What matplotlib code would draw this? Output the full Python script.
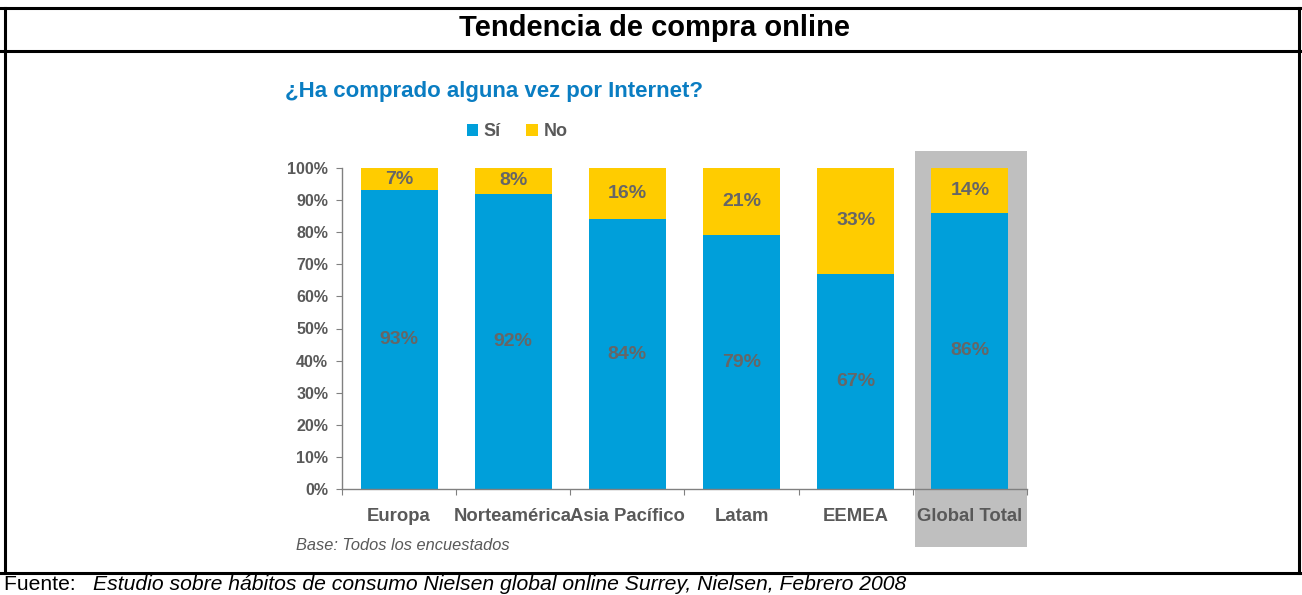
import matplotlib
matplotlib.use("Agg")
import matplotlib.pyplot as plt
from matplotlib.patches import Rectangle
from matplotlib.lines import Line2D

plt.rcParams['font.family'] = ['Liberation Sans', 'DejaVu Sans']

categories = ["Europa", "Norteamérica", "Asia Pacífico", "Latam", "EEMEA", "Global Total"]
si_values = [93, 92, 84, 79, 67, 86]
no_values = [7, 8, 16, 21, 33, 14]
ytick_values = [0, 10, 20, 30, 40, 50, 60, 70, 80, 90, 100]

BLUE = "#009FDA"
YELLOW = "#FFCC00"
TITLE_BLUE = "#0A7DC2"
GRAY_TXT = "#595959"
LABEL_GRAY = "#666666"
HILITE = "#BFBFBF"

W, H = 1302, 595
fig = plt.figure(figsize=(W / 100, H / 100), dpi=100)

def fx(px):
    return px / W

def fy(py):
    return 1 - py / H

# Frame lines
lw = 2.2
for y in (7.5, 51, 573):
    fig.add_artist(Line2D([fx(0), fx(W)], [fy(y), fy(y)], color="black", lw=lw))
fig.add_artist(Line2D([fx(5), fx(5)], [fy(7.5), fy(573)], color="black", lw=lw))
fig.add_artist(Line2D([fx(1299), fx(1299)], [fy(7.5), fy(573)], color="black", lw=lw))

fig.text(fx(655), fy(28), "Tendencia de compra online", ha="center", va="center",
         fontsize=21, fontweight="bold", color="black")

fig.text(fx(285), fy(92), "¿Ha comprado alguna vez por Internet?", ha="left", va="center",
         fontsize=16, fontweight="bold", color=TITLE_BLUE)

# Axes
ax_left, ax_right = 342, 1027
ax_bottom, ax_top = 489, 168
ax = fig.add_axes([fx(ax_left), fy(ax_bottom), (ax_right - ax_left) / W, (ax_bottom - ax_top) / H])
ax.patch.set_alpha(0)

x = list(range(len(categories)))
bw = 0.675
ax.bar(x, si_values, width=bw, color=BLUE, label="Sí", zorder=2)
ax.bar(x, no_values, width=bw, bottom=si_values, color=YELLOW, label="No", zorder=2)

# Highlight box behind Global Total
ax.add_patch(Rectangle((4.52, -18.1), 0.98, 123.4, facecolor=HILITE, edgecolor="none",
                       clip_on=False, zorder=0))

for i in x:
    ax.text(i, si_values[i] / 2, f"{si_values[i]}%", ha="center", va="center",
            fontsize=14, fontweight="bold", color=LABEL_GRAY, zorder=3)
    ax.text(i, si_values[i] + no_values[i] / 2, f"{no_values[i]}%", ha="center", va="center",
            fontsize=14, fontweight="bold", color=LABEL_GRAY, zorder=3)

ax.set_xlim(-0.5, len(categories) - 0.5)
ax.set_ylim(0, 100)
ax.set_yticks(ytick_values)
ax.set_yticklabels([f"{v}%" for v in ytick_values], fontsize=11.5, fontweight="bold", color=GRAY_TXT)
ax.tick_params(axis="y", direction="out", length=4, color="#808080", pad=6)

ax.set_xticks([i - 0.5 for i in range(len(categories) + 1)])
ax.set_xticklabels([])
ax.tick_params(axis="x", which="major", direction="out", length=4, color="#808080")
ax.set_xticks(x, minor=True)
ax.set_xticklabels(categories, minor=True, fontsize=13.3, fontweight="bold", color=GRAY_TXT)
ax.tick_params(axis="x", which="minor", length=0, pad=14)

for s in ("top", "right"):
    ax.spines[s].set_visible(False)
for s in ("left", "bottom"):
    ax.spines[s].set_color("#808080")
    ax.spines[s].set_linewidth(1)

# Legend
leg = fig.legend(handles=[ax.containers[0], ax.containers[1]],
                 labels=["Sí", "No"], loc="center", bbox_to_anchor=(fx(517), fy(132)),
                 ncol=2, frameon=False, handlelength=0.65, handleheight=0.65,
                 handletextpad=0.3, columnspacing=1.4,
                 prop={"weight": "bold", "size": 13})
for t in leg.get_texts():
    t.set_color(GRAY_TXT)

fig.text(fx(296), fy(546), "Base: Todos los encuestados", ha="left", va="center",
         fontsize=11.8, style="italic", color=GRAY_TXT)

fig.text(fx(4), fy(590), "Fuente: ", ha="left", va="baseline", fontsize=15.2, color="black")
fig.text(fx(93), fy(590), "Estudio sobre hábitos de consumo Nielsen global online Surrey, Nielsen, Febrero 2008",
         ha="left", va="baseline", fontsize=15.2, style="italic", color="black")

fig.savefig("out.png", dpi=100)
